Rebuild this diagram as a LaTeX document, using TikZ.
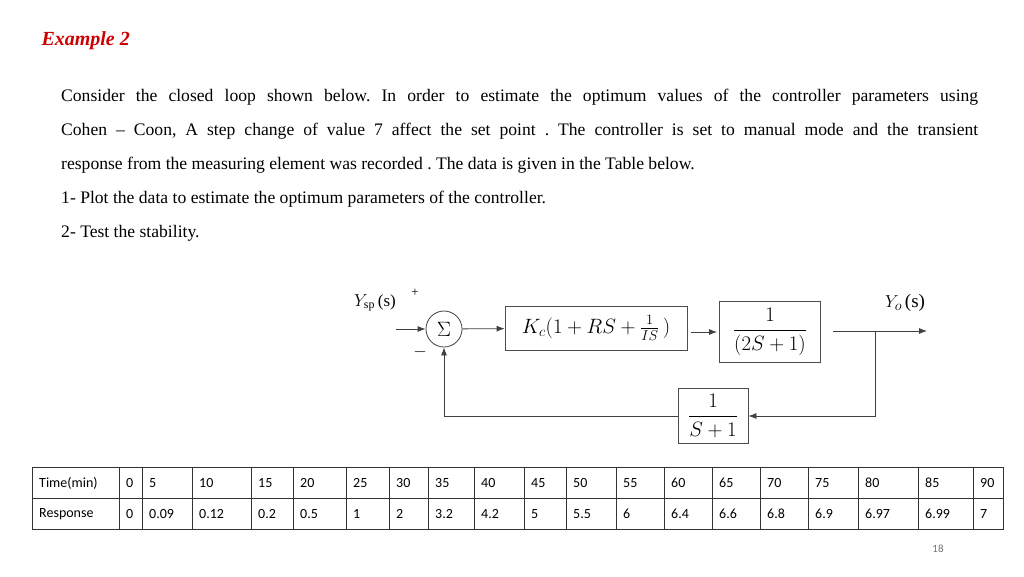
\documentclass[tikz,border=0pt]{standalone}
\usepackage{fontspec}
\setmainfont{Liberation Serif}
\newfontfamily\tabfont{Carlito}
\usepackage{amsmath}
\usetikzlibrary{positioning, arrows.meta}
\frenchspacing

\begin{document}
\begin{tikzpicture}[x=1pt, y=-1pt, >={Latex[length=8pt, width=6pt]}, font=\fontsize{17}{20}\selectfont]
            \tikzstyle{block} = [draw=black!70, thick, minimum height=44pt, inner sep=2pt, font=\fontsize{20}{22}\selectfont];
            \tikzstyle{line} = [draw=black!75, thick];
            \tikzstyle{cell} = [font=\tabfont\fontsize{14}{16}\selectfont, anchor=west, inner sep=0pt];
            \useasboundingbox (0,0) rectangle (1024,576);

            \node [anchor=west, text=red!80!black, font=\fontsize{20}{22}\selectfont\bfseries\itshape] (title) at (38,41) {Example 2};
            \node [anchor=north west, text width=917pt, align=justify, inner sep=0pt,
                   font=\fontsize{17.6}{34}\selectfont] (text) at (61,89)
                {Consider the closed loop shown below. In order to estimate the optimum values of the controller parameters using\linebreak
                Cohen -- Coon, A step change of value 7 affect the set point . The controller is set to manual mode and the transient\linebreak
                response from the measuring element was recorded . The data is given in the Table below.\\
                1- Plot the data to estimate the optimum parameters of the controller.\\
                2- Test the stability.};

            % block diagram
            \node [circle, line, minimum size=36pt, inner sep=0pt, font=\fontsize{20}{22}\selectfont] (sum) at (444,329) {$\Sigma$};
            \node [block, minimum width=182pt] (ctrl) at (596,328) {$K_c(1+RS+\frac{1}{IS}\,)$};
            \node [block, minimum width=101pt, minimum height=61pt] (plant) at (770,332) {$\dfrac{1}{(2S+1)}$};
            \node [block, minimum width=70pt, minimum height=55pt] (fb) at (713,416) {$\dfrac{1}{S+1}$};
            \coordinate (in) at (396,329);
            \coordinate (out) at (927,331);
            \coordinate (branch) at (875,331);

            \node (ysp) at (375,303) {$Y_{\mathrm{sp}}\,$(s)};
            \node [font=\fontsize{13}{14}\selectfont] (plus) at (415,293) {+};
            \node (minus) at (420,352) {$-$};
            \node [font=\fontsize{19}{20}\selectfont] (yo) at (905,303) {$Y_o\,$(s)};

            \draw [line, ->] (in) to (sum);
            \draw [line, ->] (sum) to (ctrl);
            \draw [line, ->, shorten <=4pt, shorten >=2pt] (ctrl.east |- plant) to (plant.west);
            \draw [line, ->, shorten <=12pt] (plant.east |- out) to (out);
            \draw [line, ->] (branch) |- (fb.east);
            \draw [line, ->] (fb.west) -| (sum.south);

            % table
            \draw [black!80] (32,467) rectangle (1003,529);
            \draw [black!80] (32,498) -- (1003,498);
            \foreach \x in {119,142,192,251,293,346,389,428,474,524,566,616,664,712,760,808,858,918,973}
                \draw [black!80] (\x,467) -- (\x,529);
            \node [cell] (t0) at (39,483) {Time(min)};
            \node [cell] (r0) at (39,514) {Response};
            \foreach \x/\t/\r [count=\i] in {119/0/0, 142/5/0.09, 192/10/0.12, 251/15/0.2, 293/20/0.5,
                    346/25/1, 389/30/2, 428/35/3.2, 474/40/4.2, 524/45/5, 566/50/5.5, 616/55/6,
                    664/60/6.4, 712/65/6.6, 760/70/6.8, 808/75/6.9, 858/80/6.97, 918/85/6.99, 973/90/7} {
                \node [cell] (t\i) at (\x+7,483) {\t};
                \node [cell] (r\i) at (\x+7,514) {\r};
            }

            \node [font=\tabfont\fontsize{11}{12}\selectfont, text=black!55] (page) at (938,549) {18};
        \end{tikzpicture}
\end{document}
